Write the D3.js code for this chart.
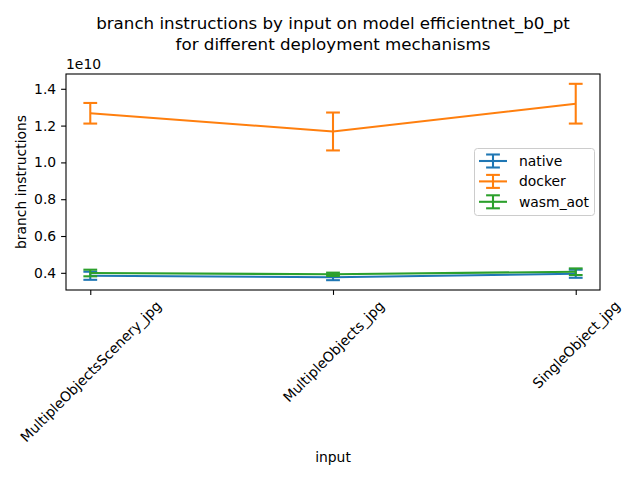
<!DOCTYPE html>
<html><head><meta charset="utf-8">
<script src="https://cdn.jsdelivr.net/npm/d3@7"></script>
<style>body{margin:0;background:#fff}svg{display:block}text{font-family:"DejaVu Sans",sans-serif;fill:#000}</style>
</head><body>
<svg id="c" width="640" height="480"></svg>
<script>
const categories = ["MultipleObjectsScenery_jpg", "MultipleObjects_jpg", "SingleObject_jpg"];
const seriesNames = ["native", "docker", "wasm_aot"];
const seriesColors = ["#1f77b4", "#ff7f0e", "#2ca02c"];
const nativeValues = [0.384e10, 0.376e10, 0.395e10];
const nativeErrors = [0.022e10, 0.016e10, 0.022e10];
const dockerValues = [1.267e10, 1.168e10, 1.319e10];
const dockerErrors = [0.056e10, 0.103e10, 0.108e10];
const wasmValues = [0.399e10, 0.392e10, 0.406e10];
const wasmErrors = [0.018e10, 0.009e10, 0.018e10];
const yTicks = [0.4e10, 0.6e10, 0.8e10, 1.0e10, 1.2e10, 1.4e10];

const series = [
  {name: seriesNames[0], color: seriesColors[0], values: nativeValues, errors: nativeErrors},
  {name: seriesNames[1], color: seriesColors[1], values: dockerValues, errors: dockerErrors},
  {name: seriesNames[2], color: seriesColors[2], values: wasmValues, errors: wasmErrors}
];

const svg = d3.select("#c");
const L = 66, R = 600, T = 74, B = 290;

// y domain like matplotlib autoscale with 5% margins
let lo = Infinity, hi = -Infinity;
series.forEach(s => s.values.forEach((v, i) => { lo = Math.min(lo, v - s.errors[i]); hi = Math.max(hi, v + s.errors[i]); }));
const pad = (hi - lo) * 0.05;
const y = d3.scaleLinear().domain([lo - pad, hi + pad]).range([B, T]);
const x = d3.scaleLinear().domain([-0.1, categories.length - 1 + 0.1]).range([L, R]);

// Axes
const yAxis = svg.append("g").attr("transform", `translate(${L},0)`)
  .call(d3.axisLeft(y).tickValues(yTicks).tickFormat(d => (d / 1e10).toFixed(1)).tickSize(4.9).tickPadding(4.9));
const xAxis = svg.append("g").attr("transform", `translate(0,${B})`)
  .call(d3.axisBottom(x).tickValues(d3.range(categories.length)).tickFormat(i => categories[i]).tickSize(4.9));
[yAxis, xAxis].forEach(g => {
  g.select(".domain").remove();
  g.selectAll(".tick line").attr("stroke", "#000").attr("stroke-width", 1.1);
  g.selectAll("text").attr("font-size", "13.9px").attr("font-family", "DejaVu Sans");
});
// rotated x labels, centered bbox like matplotlib
xAxis.selectAll(".tick text").each(function() {
  const t = d3.select(this);
  const len = this.getComputedTextLength();
  const h = 13.9;
  const half = (len + h) * Math.SQRT1_2 / 2;
  t.attr("text-anchor", "middle").attr("dy", null).attr("y", null)
   .attr("dominant-baseline", "central")
   .attr("transform", `translate(0,${4.9 + 3.5 + half}) rotate(-45)`);
});

const clipG = svg.append("g");
const line = d3.line().x((d, i) => x(i)).y(d => y(d));
const cap = 6.9;
series.forEach(s => {
  const g = clipG.append("g").attr("stroke", s.color).attr("stroke-width", 2.08).attr("fill", "none");
  g.append("path").attr("d", line(s.values));
  s.values.forEach((v, i) => {
    const cx = x(i);
    g.append("line").attr("x1", cx).attr("x2", cx).attr("y1", y(v - s.errors[i])).attr("y2", y(v + s.errors[i]));
    g.append("line").attr("x1", cx - cap).attr("x2", cx + cap).attr("y1", y(v - s.errors[i])).attr("y2", y(v - s.errors[i]));
    g.append("line").attr("x1", cx - cap).attr("x2", cx + cap).attr("y1", y(v + s.errors[i])).attr("y2", y(v + s.errors[i]));
  });
});

// frame
svg.append("rect").attr("x", L).attr("y", T).attr("width", R - L).attr("height", B - T)
  .attr("fill", "none").attr("stroke", "#000").attr("stroke-width", 1.1);

// offset text
svg.append("text").attr("x", L).attr("y", 69).attr("font-size", "13.9px").text("1e10");

// titles
svg.append("text").attr("x", (L + R) / 2).attr("y", 29).attr("text-anchor", "middle").attr("font-size", "16.7px")
  .text("branch instructions by input on model efficientnet_b0_pt");
svg.append("text").attr("x", (L + R) / 2).attr("y", 50).attr("text-anchor", "middle").attr("font-size", "16.7px")
  .text("for different deployment mechanisms");
svg.append("text").attr("x", (L + R) / 2).attr("y", 462).attr("text-anchor", "middle").attr("font-size", "13.9px").text("input");
svg.append("text").attr("transform", `translate(26,${(T + B) / 2}) rotate(-90)`).attr("text-anchor", "middle")
  .attr("font-size", "13.9px").text("branch instructions");

// legend
const lg = svg.append("g");
lg.append("rect").attr("x", 474.5).attr("y", 148.5).attr("width", 120).attr("height", 67).attr("rx", 3)
  .attr("fill", "#fff").attr("fill-opacity", 0.8).attr("stroke", "#ccc").attr("stroke-width", 1);
series.forEach((s, i) => {
  const cy = 161 + i * 20.4;
  const g = lg.append("g").attr("stroke", s.color).attr("stroke-width", 2.08);
  g.append("line").attr("x1", 479).attr("x2", 507).attr("y1", cy).attr("y2", cy);
  g.append("line").attr("x1", 493).attr("x2", 493).attr("y1", cy - 6.5).attr("y2", cy + 6.5);
  g.append("line").attr("x1", 493 - cap).attr("x2", 493 + cap).attr("y1", cy - 6.5).attr("y2", cy - 6.5);
  g.append("line").attr("x1", 493 - cap).attr("x2", 493 + cap).attr("y1", cy + 6.5).attr("y2", cy + 6.5);
  lg.append("text").attr("x", 519).attr("y", cy).attr("dy", "0.35em").attr("font-size", "13.9px").text(s.name);
});
</script>
</body></html>
